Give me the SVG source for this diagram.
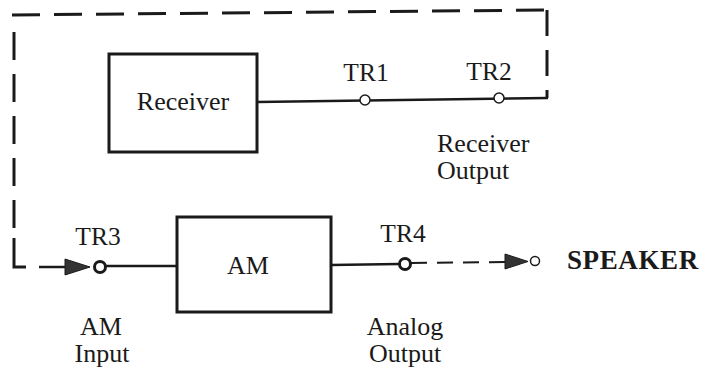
<svg xmlns="http://www.w3.org/2000/svg" width="706" height="372" viewBox="0 0 706 372">
<style>
text{font-size:26px;fill:#1a1a1a}
.t{font-size:25.5px}
.c{text-anchor:middle}
.b{font-weight:bold;font-size:27px;letter-spacing:0.6px}
.box{fill:#fff;stroke:#1a1a1a;stroke-width:3}
.wire{fill:none;stroke:#1a1a1a;stroke-width:2.5}
.solid3{fill:none;stroke:#1a1a1a;stroke-width:3}
.dash{fill:none;stroke:#1a1a1a;stroke-width:3;stroke-dasharray:28 14}
.dashr{fill:none;stroke:#1a1a1a;stroke-width:3;stroke-dasharray:26 14}
.dash2{fill:none;stroke:#1a1a1a;stroke-width:2;stroke-dasharray:16 10}
.tp{fill:#fff;stroke:#1a1a1a;stroke-width:1.5}
.tpb{fill:#fff;stroke:#1a1a1a;stroke-width:3}
.ah{fill:#333;stroke:#1a1a1a;stroke-width:1}
</style>
<rect width="706" height="372" fill="#fff"/>
<g id="connectors">
<path class="dash" d="M12 15 L547 10"/>
<path class="dashr" d="M547 10 L547 98"/>
<path class="dash" d="M14 32 L14 228"/>
<path class="solid3" d="M14 238 L14 267 L26 267"/>
<path class="wire" d="M39 267 L65 267"/>
<path class="wire" d="M257 102 L548 98"/>
<path class="wire" d="M105 266 L177 266"/>
<path class="wire" d="M331 265 L399 264"/>
<path class="dash2" d="M411 263 L505 262"/>
<polygon class="ah" points="65,259 90,267 65,275"/>
<polygon class="ah" points="505,254 528,261.5 505,269"/>
</g>
<g font-family="Liberation Serif, DejaVu Serif, serif">
<g id="receiver">
<rect class="box" x="109" y="54" width="148" height="98"/>
<text class="c" x="183" y="110" font-size="27">Receiver</text>
</g>
<g id="am">
<rect class="box" x="177" y="217" width="154" height="95"/>
<text class="c" x="248" y="274" font-size="27">AM</text>
</g>
<g id="tr1">
<circle class="tp" cx="365" cy="100" r="5"/>
<text class="c t" x="366" y="81">TR1</text>
</g>
<g id="tr2">
<circle class="tp" cx="499" cy="98" r="5"/>
<text class="c t" x="489" y="80">TR2</text>
<text x="437" y="152">Receiver<tspan x="437" y="179">Output</tspan></text>
</g>
<g id="tr3">
<circle class="tpb" cx="100" cy="267" r="5.5"/>
<text class="c t" x="98" y="245">TR3</text>
<text class="c" x="101" y="335">AM<tspan x="102" y="362">Input</tspan></text>
</g>
<g id="tr4">
<circle class="tpb" cx="405" cy="264" r="5.5"/>
<text class="c t" x="403" y="242">TR4</text>
<text class="c" x="405" y="335">Analog<tspan x="405" y="362">Output</tspan></text>
</g>
<g id="speaker">
<circle class="tp" cx="535" cy="261" r="4.5" stroke-width="1.2"/>
<text class="b" x="567" y="269">SPEAKER</text>
</g>
</g>
</svg>
